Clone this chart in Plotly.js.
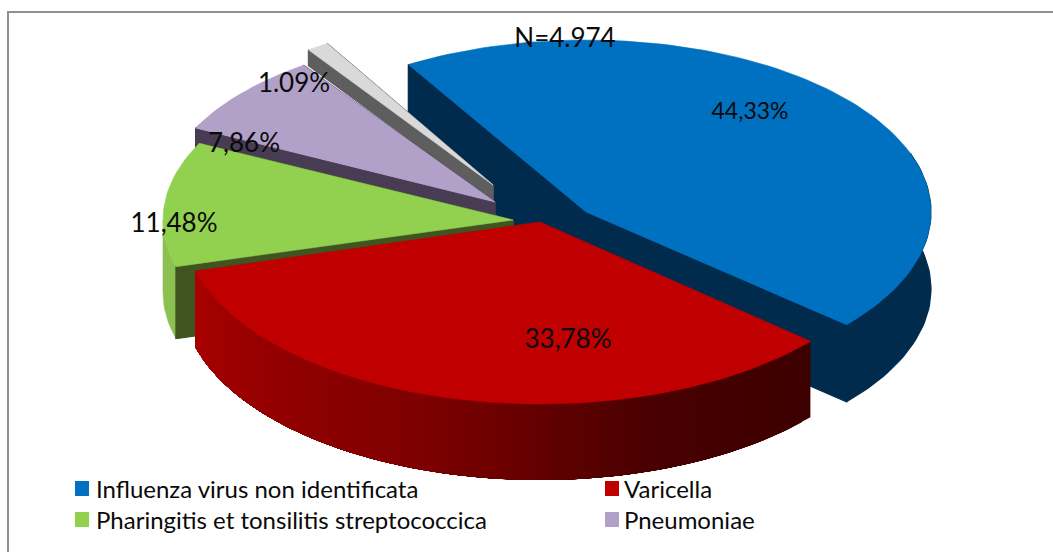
<!DOCTYPE html>
<html>
<head>
<meta charset="utf-8">
<script src="https://cdn.plot.ly/plotly-3.0.1.min.js"></script>
<style>html,body{margin:0;padding:0;background:#fff}#chart{width:1053px;height:552px}</style>
</head>
<body>
<div id="chart"></div>
<script>
// ---- data ----
const categories = ["Influenza virus non identificata", "Varicella", "Pharingitis et tonsilitis streptococcica", "Pneumoniae", ""];
const values = [44.33, 33.78, 11.48, 7.86, 1.09];
const sliceLabels = ["44,33%", "33,78%", "11,48%", "7,86%", "1.09%"];
const noteText = "N=4.974";

// ---- styling ----
const FONT = "Lato, 'Open Sans', sans-serif";
const topColors = ["#0070c0", "#c00000", "#92d050", "#b1a0c7", "#d9d9d9"];
const wallColors = ["#002b4d", "#4a0000", "#3f5420", "#483c55", "#5e5e5e"];
const legendColors = ["#0070c0", "#c00000", "#92d050", "#b1a0c7"];
const redWallStops = [[0, [168, 0, 0]], [0.45, [125, 0, 0]], [0.6, [100, 0, 0]], [0.75, [72, 0, 0]], [1, [60, 0, 0]]];

// ---- projection: each exploded slice has its own apex and radii (pixels) ----
const startAngle = -31;
const apexX = [586, 540, 513, 495, 493];
const apexY = [212, 222, 220, 202, 185];
const radA = [345, 358, 350, 334, 322];
const radB = [172, 182, 173, 167, 165];
const depth = [77, 76, 72, 77, 16];
const drawOrder = [0, 4, 3, 2, 1];

const total = values.reduce((a, b) => a + b, 0);
const angles = [];
let acc = startAngle;
values.forEach(v => { const s = acc; acc += v / total * 360; angles.push([s, acc]); });

function pt(i, deg, drop) {
  const r = deg * Math.PI / 180;
  return [apexX[i] + radA[i] * Math.sin(r), apexY[i] - radB[i] * Math.cos(r) + (drop || 0)];
}
function poly(pts, color, lineW) {
  return {
    type: "scatter", mode: "lines", x: pts.map(p => p[0]).concat(pts[0][0]), y: pts.map(p => p[1]).concat(pts[0][1]),
    fill: "toself", fillcolor: color, line: {width: lineW === undefined ? 0.6 : lineW, color: color}, hoverinfo: "skip", showlegend: false
  };
}
function arc(i, a0, a1, drop) {
  const n = Math.max(2, Math.ceil(Math.abs(a1 - a0) / 1.5));
  const out = [];
  for (let k = 0; k <= n; k++) out.push(pt(i, a0 + (a1 - a0) * k / n, drop));
  return out;
}
function redWall(t) {
  for (let k = 1; k < redWallStops.length; k++) {
    if (t <= redWallStops[k][0]) {
      const [t0, c0] = redWallStops[k - 1], [t1, c1] = redWallStops[k];
      const f = (t - t0) / (t1 - t0);
      return "rgb(" + c0.map((c, j) => Math.round(c + (c1[j] - c) * f)).join(",") + ")";
    }
  }
  return "rgb(60,0,0)";
}

const traces = [];
function topFace(i) {
  return [[apexX[i], apexY[i]]].concat(arc(i, angles[i][0], angles[i][1]));
}
function addSlice(i) {
  const [a0, a1] = angles[i], d = depth[i], apex = [apexX[i], apexY[i]], apexLow = [apexX[i], apexY[i] + d];
  const wall = wallColors[i];
  // outer rim facing the viewer
  const lo = Math.max(a0, 70), hi = Math.min(a1, 270);
  if (hi > lo) {
    if (i === 1) {
      // gradient: bands painted from the dark end, each one reaching under the next
      const steps = 60;
      for (let k = 0; k < steps; k++) {
        const s = lo + (hi - lo) * k / steps;
        traces.push(poly(arc(i, s, hi).concat(arc(i, hi, s, d)), redWall(1 - (k + 0.5) / steps), 0));
      }
    } else if (i === 2) {
      traces.push(poly(arc(i, lo, hi).concat(arc(i, hi, lo, d)), "#8cc152"));
    } else {
      traces.push(poly(arc(i, lo, hi).concat(arc(i, hi, lo, d)), wall, 1.2));
    }
  }
  // cut faces (the front slice shows none of its own)
  if (i !== 1) {
    traces.push(poly([apex, pt(i, a0), pt(i, a0, d), apexLow], wall, 1.2));
    traces.push(poly([apex, pt(i, a1), pt(i, a1, d), apexLow], wall, 1.2));
  }
  traces.push(poly(topFace(i), topColors[i]));
}
drawOrder.forEach(addSlice);

// percentage labels and note as text through the same axes
const labelX = [750, 568, 174, 244, 294];
const labelY = [113, 341, 225, 145, 85];
const labelSize = [23, 26, 26, 26, 26];
const clippedLabel = 4;       // this label runs under the purple face in the picture
const clipY = 92;
const others = [0, 1, 2, 3];

traces.push({
  type: "scatter", mode: "text", x: [labelX[clippedLabel]], y: [labelY[clippedLabel]], text: [sliceLabels[clippedLabel]],
  textposition: "middle center", textfont: {family: FONT, size: labelSize[clippedLabel], color: "#0a0a0a"},
  hoverinfo: "skip", showlegend: false
});
// purple face below the cut line, repainted over the foot of that label
function clipBelow(pts, yMin) {
  const out = [];
  pts.forEach((p, k) => {
    const q = pts[(k + 1) % pts.length];
    if (p[1] >= yMin) out.push(p);
    if ((p[1] >= yMin) !== (q[1] >= yMin)) {
      const f = (yMin - p[1]) / (q[1] - p[1]);
      out.push([p[0] + (q[0] - p[0]) * f, yMin]);
    }
  });
  return out;
}
traces.push(poly(clipBelow(topFace(3), clipY), topColors[3], 0));

traces.push({
  type: "scatter", mode: "text", x: others.map(i => labelX[i]), y: others.map(i => labelY[i]), text: others.map(i => sliceLabels[i]),
  textposition: "middle center", textfont: {family: FONT, size: others.map(i => labelSize[i]), color: "#0a0a0a"},
  hoverinfo: "skip", showlegend: false
});
traces.push({
  type: "scatter", mode: "text", x: [565], y: [40], text: [noteText], textposition: "middle center",
  textfont: {family: FONT, size: 26, color: "#0a0a0a"}, hoverinfo: "skip", showlegend: false
});

// ---- legend (two columns, four visible entries) ----
const legendX = [75, 605, 75, 605];
const legendTextX = [94, 622, 94, 622];
const legendY = [488.5, 488.5, 519.5, 519.5];
const legendShapes = legendColors.map((c, i) => ({
  type: "rect", xref: "x", yref: "y", x0: legendX[i], x1: legendX[i] + 14,
  y0: legendY[i] - 7.5, y1: legendY[i] + 7.5, fillcolor: c, line: {width: 0}
}));
const legendAnn = categories.slice(0, 4).map((c, i) => ({
  xref: "x", yref: "y", x: legendTextX[i], y: legendY[i], text: c, showarrow: false,
  xanchor: "left", yanchor: "middle", font: {family: FONT, size: 24, color: "#0a0a0a"}
}));

const frame = [
  {type: "line", xref: "x", yref: "y", x0: 8, x1: 8, y0: 12, y1: 552, line: {color: "#8f8f8f", width: 2}},
  {type: "line", xref: "x", yref: "y", x0: 7, x1: 1053, y0: 12, y1: 12, line: {color: "#8f8f8f", width: 2}}
];

const layout = {
  width: 1053, height: 552, margin: {l: 0, r: 0, t: 0, b: 0}, showlegend: false,
  paper_bgcolor: "#fff", plot_bgcolor: "#fff",
  xaxis: {range: [0, 1053], visible: false, fixedrange: true},
  yaxis: {range: [552, 0], visible: false, fixedrange: true},
  shapes: frame.concat(legendShapes),
  annotations: legendAnn
};
Plotly.newPlot("chart", traces, layout, {displayModeBar: false, staticPlot: true});
</script>
</body>
</html>
